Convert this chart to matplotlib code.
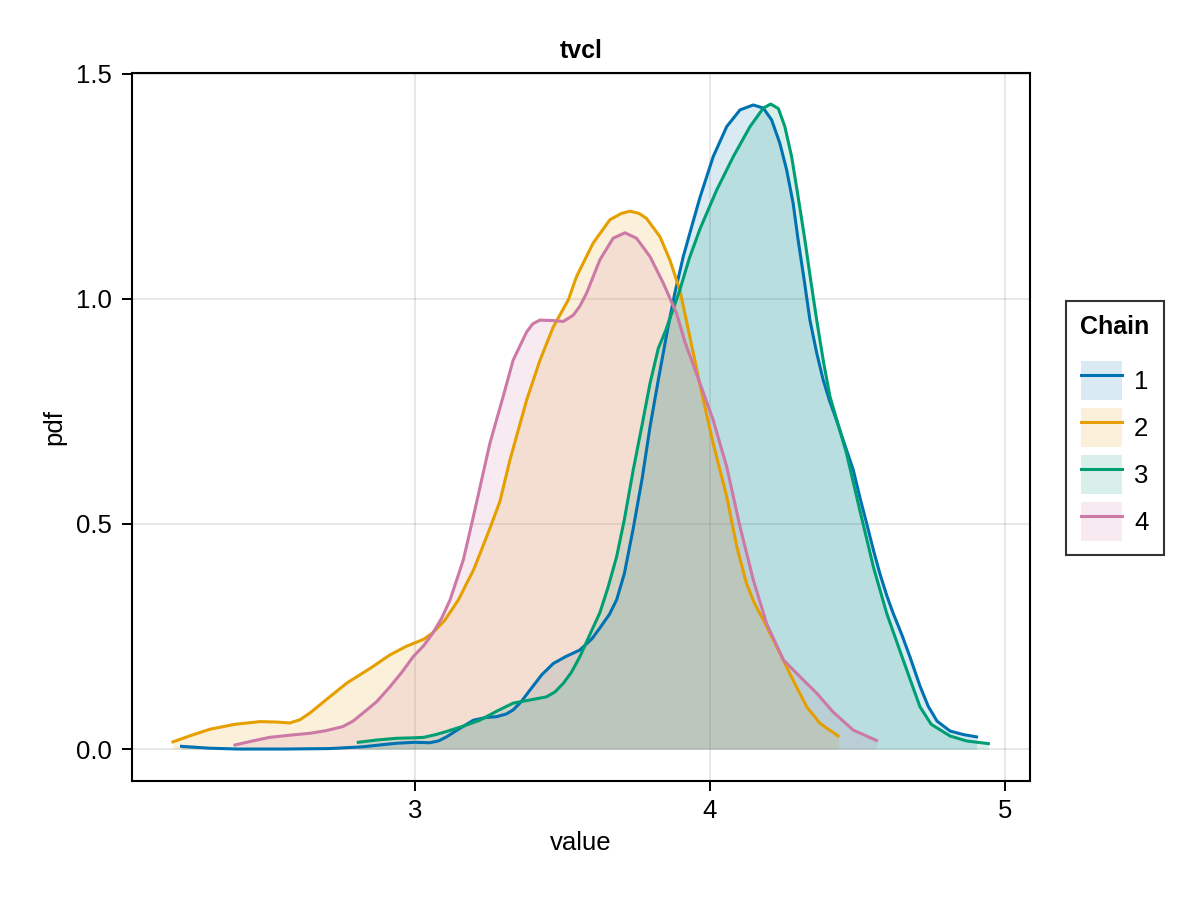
import matplotlib
matplotlib.use("Agg")
import matplotlib.pyplot as plt
from matplotlib.patches import Patch
from matplotlib.lines import Line2D
from matplotlib.legend_handler import HandlerTuple

plt.rcParams.update({
    "font.family": ["Liberation Sans", "DejaVu Sans"],
    "font.size": 18.5,
})

# ---------------------------------------------------------------------------
# Density curves (value, pdf) per chain
# ---------------------------------------------------------------------------
chain1_x = [2.209, 2.30, 2.40, 2.55, 2.71, 2.824, 2.88, 2.94, 3.00, 3.05,
            3.08, 3.107, 3.15, 3.198, 3.24, 3.277, 3.31, 3.333, 3.36, 3.39,
            3.43, 3.469, 3.51, 3.559, 3.60, 3.627, 3.66, 3.684, 3.71, 3.74,
            3.77, 3.797, 3.825, 3.853, 3.88, 3.91, 3.94, 3.966, 4.011, 4.057,
            4.102, 4.147, 4.181, 4.209, 4.237, 4.26, 4.282, 4.299, 4.32, 4.339,
            4.362, 4.384, 4.405, 4.429, 4.455, 4.486, 4.508, 4.531, 4.555, 4.576,
            4.60, 4.621, 4.65, 4.678, 4.712, 4.74, 4.77, 4.814, 4.86, 4.904]
chain1_y = [0.006, 0.002, 0.0, 0.0, 0.001, 0.005, 0.009, 0.013, 0.015, 0.014,
            0.018, 0.027, 0.045, 0.064, 0.07, 0.072, 0.078, 0.087, 0.105, 0.131,
            0.165, 0.19, 0.205, 0.22, 0.245, 0.269, 0.30, 0.332, 0.39, 0.49,
            0.60, 0.716, 0.82, 0.92, 1.01, 1.095, 1.165, 1.225, 1.316, 1.383,
            1.42, 1.431, 1.424, 1.398, 1.346, 1.287, 1.213, 1.131, 1.04, 0.953,
            0.88, 0.82, 0.775, 0.731, 0.68, 0.62, 0.56, 0.502, 0.44, 0.39,
            0.34, 0.302, 0.255, 0.205, 0.14, 0.095, 0.062, 0.040, 0.032, 0.027]

chain2_x = [2.18, 2.24, 2.305, 2.39, 2.475, 2.53, 2.576, 2.61, 2.644, 2.70,
            2.77, 2.85, 2.915, 2.97, 3.03, 3.06, 3.10, 3.147, 3.20, 3.254,
            3.288, 3.322, 3.379, 3.424, 3.469, 3.52, 3.548, 3.604, 3.661, 3.70,
            3.729, 3.76, 3.785, 3.831, 3.864, 3.898, 3.932, 3.966, 4.011, 4.057,
            4.091, 4.124, 4.15, 4.181, 4.237, 4.282, 4.328, 4.373, 4.435]
chain2_y = [0.016, 0.03, 0.044, 0.055, 0.061, 0.060, 0.058, 0.065, 0.08, 0.11,
            0.147, 0.18, 0.209, 0.228, 0.244, 0.258, 0.285, 0.331, 0.40, 0.49,
            0.55, 0.642, 0.776, 0.864, 0.938, 0.998, 1.050, 1.124, 1.176, 1.19,
            1.195, 1.19, 1.179, 1.138, 1.087, 1.02, 0.916, 0.81, 0.679, 0.561,
            0.45, 0.368, 0.325, 0.287, 0.213, 0.153, 0.094, 0.057, 0.029]

chain3_x = [2.808, 2.87, 2.94, 3.00, 3.03, 3.07, 3.107, 3.16, 3.22, 3.28,
            3.333, 3.39, 3.446, 3.475, 3.503, 3.53, 3.559, 3.59, 3.627, 3.655,
            3.684, 3.71, 3.74, 3.77, 3.797, 3.825, 3.85, 3.898, 3.93, 3.966,
            4.023, 4.079, 4.136, 4.181, 4.206, 4.232, 4.254, 4.277, 4.299, 4.322,
            4.342, 4.362, 4.385, 4.407, 4.435, 4.463, 4.508, 4.554, 4.599, 4.655,
            4.712, 4.75, 4.814, 4.87, 4.944]
chain3_y = [0.015, 0.02, 0.024, 0.025, 0.026, 0.032, 0.039, 0.05, 0.064, 0.085,
            0.102, 0.109, 0.116, 0.127, 0.146, 0.17, 0.205, 0.25, 0.303, 0.36,
            0.428, 0.51, 0.62, 0.72, 0.8125, 0.89, 0.93, 1.02, 1.09, 1.155,
            1.242, 1.316, 1.383, 1.424, 1.433, 1.423, 1.383, 1.316, 1.227, 1.131,
            1.04, 0.953, 0.86, 0.783, 0.72, 0.657, 0.531, 0.405, 0.302, 0.198,
            0.094, 0.055, 0.029, 0.018, 0.012]

chain4_x = [2.39, 2.45, 2.508, 2.58, 2.644, 2.70, 2.756, 2.79, 2.824, 2.87,
            2.915, 2.955, 2.994, 3.03, 3.06, 3.09, 3.119, 3.164, 3.198, 3.254,
            3.299, 3.333, 3.379, 3.40, 3.424, 3.469, 3.503, 3.537, 3.56, 3.582,
            3.627, 3.672, 3.712, 3.751, 3.797, 3.842, 3.887, 3.915, 3.966, 4.011,
            4.057, 4.102, 4.147, 4.192, 4.249, 4.305, 4.362, 4.418, 4.486, 4.565]
chain4_y = [0.009, 0.018, 0.026, 0.031, 0.035, 0.041, 0.05, 0.062, 0.08, 0.105,
            0.138, 0.17, 0.205, 0.23, 0.257, 0.29, 0.331, 0.42, 0.516, 0.679,
            0.783, 0.864, 0.927, 0.945, 0.953, 0.952, 0.950, 0.964, 0.985, 1.013,
            1.087, 1.135, 1.147, 1.135, 1.094, 1.035, 0.968, 0.905, 0.813, 0.731,
            0.627, 0.494, 0.376, 0.279, 0.198, 0.161, 0.124, 0.082, 0.042, 0.019]

chain_labels = ["1", "2", "3", "4"]
x_ticks = [3, 4, 5]
y_ticks = [0.0, 0.5, 1.0, 1.5]
y_tick_labels = ["0.0", "0.5", "1.0", "1.5"]

COLORS = ["#0072B2", "#E69F00", "#009E73", "#CC79A7"]
FILL_ALPHA = 0.15

curves = [(chain1_x, chain1_y), (chain2_x, chain2_y),
          (chain3_x, chain3_y), (chain4_x, chain4_y)]

# ---------------------------------------------------------------------------
# Figure
# ---------------------------------------------------------------------------
fig = plt.figure(figsize=(12, 9), dpi=100)
ax = fig.add_axes([132 / 1200, 1 - 781 / 900, 898 / 1200, 708 / 900])

for (xs, ys), c in zip(curves, COLORS):
    ax.fill_between(xs, 0, ys, color=c, alpha=FILL_ALPHA, linewidth=0)
for (xs, ys), c in zip(curves, COLORS):
    ax.plot(xs, ys, color=c, linewidth=2.2, solid_joinstyle="round")

ax.set_xlim(2.041, 5.085)
ax.set_ylim(-0.071, 1.502)
ax.set_xticks(x_ticks)
ax.set_yticks(y_ticks)
ax.set_yticklabels(y_tick_labels)

ax.grid(True, color="black", alpha=0.12, linewidth=1.1)
ax.set_axisbelow(True)
for sp in ax.spines.values():
    sp.set_linewidth(1.5)
ax.tick_params(direction="out", length=7, width=1.4)
ax.tick_params(axis="x", pad=6)
ax.tick_params(axis="y", pad=7.5)

ax.set_title("tvcl", fontweight="bold", fontsize=18, pad=11)
ax.set_xlabel("value", labelpad=6)
ax.set_ylabel("pdf", labelpad=7)

handles = [
    (Patch(facecolor=c, alpha=FILL_ALPHA, edgecolor="none"),
     Line2D([], [], color=c, linewidth=2.2))
    for c in COLORS
]
leg = fig.legend(
    handles, chain_labels,
    title="Chain",
    title_fontproperties={"weight": "bold", "size": 18},
    handler_map={tuple: HandlerTuple(ndivide=1, pad=0)},
    loc="center left",
    bbox_to_anchor=(1066 / 1200, 1 - 428 / 900),
    bbox_transform=fig.transFigure,
    frameon=True,
    fancybox=False,
    handlelength=1.6,
    handleheight=1.95,
    handletextpad=0.45,
    labelspacing=0.32,
    borderpad=0.55,
    borderaxespad=0,
)
leg._legend_box.sep = 16
frame = leg.get_frame()
frame.set_edgecolor("black")
frame.set_linewidth(1.5)

fig.savefig("out.png", dpi=100)
